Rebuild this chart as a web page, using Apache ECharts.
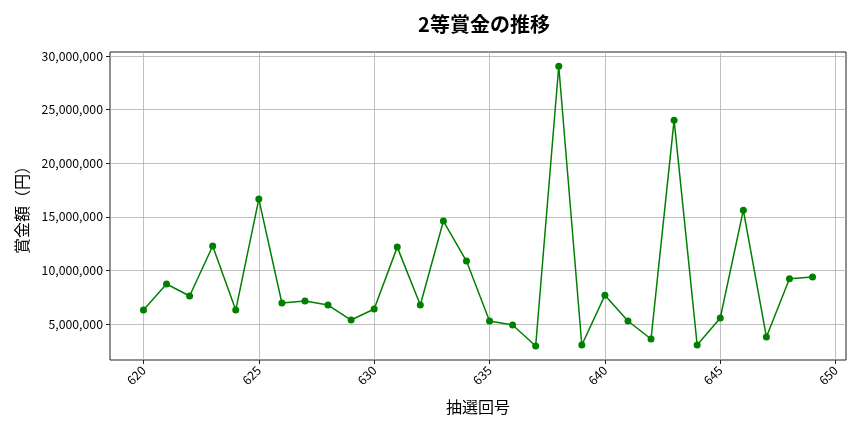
<!DOCTYPE html>
<html><head><meta charset="utf-8">
<script src="https://cdn.jsdelivr.net/npm/echarts@6/dist/echarts.min.js"></script>
<style>html,body{margin:0;padding:0;background:#fff}#c{width:864px;height:432px}</style>
</head><body><div id="c"></div>
<script>
const draws = [620,621,622,623,624,625,626,627,628,629,630,631,632,633,634,635,636,637,638,639,640,641,642,643,644,645,646,647,648,649];
const prizes = [6300000,8730000,7610000,12270000,6300000,16650000,6960000,7140000,6770000,5370000,6400000,12170000,6770000,14600000,10870000,5280000,4910000,2950000,29040000,3040000,7670000,5280000,3600000,24010000,3040000,5560000,15620000,3790000,9220000,9380000];
const xTicks = [620,625,630,635,640,645,650];
const yTicks = [5000000,10000000,15000000,20000000,25000000,30000000];
const titleText = '2等賞金の推移';
const xName = '抽選回号';
const yName = '賞金額（円）';

const font = '"Noto Sans CJK JP", "Noto Sans", sans-serif';
const chart = echarts.init(document.getElementById('c'), null, {renderer:'canvas'});
chart.setOption({
  animation:false,
  textStyle:{fontFamily:font},
  title:{text:titleText,left:479,top:9,textAlign:'center',textStyle:{fontFamily:font,fontSize:20,fontWeight:'bold',color:'#000'}},
  grid:{left:110,right:18,top:52,bottom:72,show:true,borderColor:'#222',borderWidth:1,backgroundColor:'transparent'},
  xAxis:{type:'value',min:618.55,max:650.45,
    name:xName,nameLocation:'middle',nameGap:39,nameTextStyle:{fontFamily:font,fontSize:16,color:'#000'},
    axisLine:{show:false},
    axisTick:{show:true,customValues:xTicks,length:4,lineStyle:{color:'#222'}},
    axisLabel:{customValues:xTicks,rotate:45,fontSize:12.3,color:'#000',margin:8,fontFamily:font},
    splitLine:{show:true,lineStyle:{color:'#b0b0b0',width:0.8}}},
  yAxis:{type:'value',min:1640000,max:30370000,
    name:yName,nameLocation:'middle',nameGap:80,nameRotate:90,nameTextStyle:{fontFamily:font,fontSize:16,color:'#000'},
    axisLine:{show:false},
    axisTick:{show:true,customValues:yTicks,length:4,lineStyle:{color:'#222'}},
    axisLabel:{customValues:yTicks,fontSize:12.3,color:'#000',margin:7,fontFamily:font,
      formatter:v=>Math.round(v).toLocaleString('en-US')},
    splitLine:{show:true,lineStyle:{color:'#b0b0b0',width:0.8}}},
  series:[{type:'line',data:draws.map((d,i)=>[d,prizes[i]]),
    lineStyle:{color:'#008000',width:1.5},itemStyle:{color:'#008000'},
    symbol:'circle',symbolSize:7,showAllSymbol:true}]
});
</script></body></html>
